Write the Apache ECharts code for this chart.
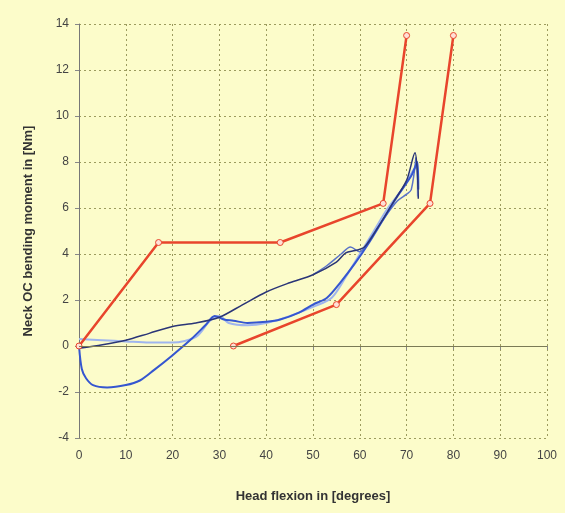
<!DOCTYPE html>
<html>
<head>
<meta charset="utf-8">
<script src="https://cdn.jsdelivr.net/npm/echarts@6/dist/echarts.min.js"></script>
<style>
    html, body { margin: 0; padding: 0; background: #fcfcca; }
    #chart { width: 565px; height: 513px; }
</style>
</head>
<body>
<div id="chart"></div>
<script>
// corridor limits
var upperLimit = [[0, 0], [17, 4.5], [43, 4.5], [65, 6.2], [70, 13.5]];
var lowerLimit = [[33, 0], [55, 1.8], [75, 6.2], [80, 13.5]];

// measured loops
var loopDark = [[0, -0.1], [5, 0.05], [10, 0.25], [15, 0.55], [20, 0.85], [25, 1.0], [30, 1.25], [35, 1.8],
    [40, 2.35], [45, 2.75], [50, 3.1], [55, 3.65], [57, 4.05], [59, 4.15], [61, 4.3], [64, 5.2], [67, 6.2],
    [70, 7.2], [71.8, 8.4], [72.3, 7.5], [72.5, 6.4]];
var loopDip = [[0, 0], [0.6, -1], [1.5, -1.4], [3, -1.7], [6, -1.8], [10, -1.7], [13, -1.5], [16, -1.05],
    [20, -0.4], [24, 0.3], [27, 0.9], [29, 1.3], [31, 1.15], [33, 1.1], [36, 1.0], [40, 1.05], [43, 1.15],
    [47, 1.45], [50, 1.8], [53, 2.1], [56, 2.8], [59, 3.6], [62, 4.5], [65, 5.5], [68, 6.5], [71, 7.4],
    [72.3, 8.0], [72.5, 6.8]];
var loopLight = [[0, 0.3], [5, 0.25], [10, 0.2], [15, 0.15], [20, 0.15], [25, 0.4], [28, 1.1], [30, 1.3],
    [32, 1.0], [36, 0.9], [40, 1.0], [45, 1.3], [50, 1.7], [54, 2.1], [57, 3.0], [60, 4.0], [63, 5.0],
    [66, 6.0], [69, 6.8], [71, 7.5], [72, 7.8], [72.4, 6.5]];
var loopReturn = [[72, 8.2], [71, 6.8], [70, 6.6], [68, 6.3], [65, 5.5], [62, 4.6], [60, 4.1], [58, 4.3],
    [56, 4.0], [53, 3.5], [50, 3.1]];

var chart = echarts.init(document.getElementById('chart'));

var gridLine = { show: true, lineStyle: { color: '#9c9b5e', type: [2, 3], width: 1 } };
var labelStyle = { color: '#444', fontSize: 12, fontFamily: 'Liberation Sans, Arial, sans-serif' };

var blueLine = function (data, color, width) {
    return {
        type: 'line',
        data: data,
        showSymbol: false,
        smooth: 0.3,
        lineStyle: { color: color, width: width },
        z: 3
    };
};

var redLine = function (data) {
    return {
        type: 'line',
        data: data,
        symbol: 'circle',
        symbolSize: 6,
        itemStyle: { color: '#ffe0d6', borderColor: '#e8452c', borderWidth: 1 },
        lineStyle: { color: '#e8452c', width: 2.5 },
        z: 4
    };
};

var option = {
    backgroundColor: '#fcfcca',
    animation: false,
    grid: { left: 79, right: 18, top: 24, bottom: 75 },
    xAxis: {
        type: 'value',
        min: 0, max: 100, interval: 10,
        name: 'Head flexion in [degrees]',
        nameLocation: 'middle',
        nameGap: 52,
        nameTextStyle: { color: '#333', fontSize: 13, fontWeight: 'bold', fontFamily: 'Liberation Sans, Arial, sans-serif' },
        axisLine: { show: false },
        axisTick: { show: true, length: 4, lineStyle: { color: '#888' } },
        axisLabel: Object.assign({ margin: 12 }, labelStyle),
        splitLine: gridLine
    },
    yAxis: {
        type: 'value',
        min: -4, max: 14, interval: 2,
        name: 'Neck OC bending moment in [Nm]',
        nameLocation: 'middle',
        nameGap: 44,
        nameTextStyle: { color: '#333', fontSize: 13, fontWeight: 'bold', fontFamily: 'Liberation Sans, Arial, sans-serif' },
        axisLine: { show: true, lineStyle: { color: '#777', width: 1 } },
        axisTick: { show: true, length: 4, lineStyle: { color: '#888' } },
        axisLabel: Object.assign({ margin: 10 }, labelStyle),
        splitLine: gridLine
    },
    series: [
        {
            type: 'line',
            data: [],
            markLine: {
                silent: true,
                symbol: 'none',
                label: { show: false },
                lineStyle: { color: '#7a7a55', type: 'solid', width: 1 },
                data: [{ yAxis: 0 }]
            }
        },
        blueLine(loopLight, '#9fb5ee', 2),
        blueLine(loopReturn, '#5a73c8', 1.5),
        blueLine(loopDip, '#3556d0', 2),
        blueLine(loopDark, '#2a3577', 1.5),
        redLine(upperLimit),
        redLine(lowerLimit)
    ]
};

chart.setOption(option);
</script>
</body>
</html>
